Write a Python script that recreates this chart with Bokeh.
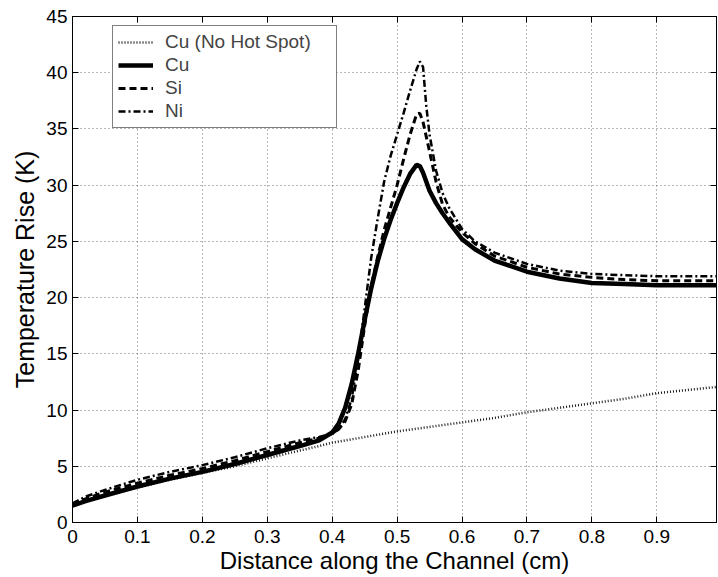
from bokeh.plotting import figure
from bokeh.models import LinearAxis, FixedTicker, Legend, LegendItem, Range1d
from bokeh.embed import file_html
from bokeh.resources import INLINE

# ---- data ----
x_base = [0, 0.02, 0.05, 0.1, 0.15, 0.2, 0.25, 0.3, 0.35, 0.38, 0.40, 0.45, 0.50, 0.55,
          0.60, 0.65, 0.70, 0.75, 0.80, 0.85, 0.90, 0.95, 1.0]
cu_no_hot = [1.5, 1.9, 2.4, 3.1, 3.8, 4.4, 5.0, 5.7, 6.4, 6.8, 7.1, 7.6, 8.1, 8.5,
             8.9, 9.3, 9.8, 10.2, 10.6, 11.0, 11.5, 11.8, 12.1]

x_hot = [0, 0.02, 0.05, 0.1, 0.15, 0.2, 0.25, 0.3, 0.35, 0.38, 0.40, 0.41, 0.42, 0.43,
         0.44, 0.45, 0.46, 0.47, 0.48, 0.49, 0.50, 0.51, 0.52, 0.53, 0.535, 0.54, 0.545,
         0.55, 0.56, 0.57, 0.58, 0.60, 0.62, 0.65, 0.70, 0.75, 0.80, 0.85, 0.90, 0.95, 1.0]
cu = [1.5, 1.9, 2.4, 3.2, 3.9, 4.5, 5.2, 6.0, 6.8, 7.3, 8.0, 8.8, 10.2, 12.3,
      15.0, 18.0, 20.8, 23.2, 25.2, 26.9, 28.4, 29.8, 31.0, 31.8, 31.7, 31.1, 30.3,
      29.5, 28.4, 27.5, 26.7, 25.2, 24.3, 23.3, 22.3, 21.7, 21.3, 21.2, 21.1, 21.1, 21.1]
si = [1.6, 2.1, 2.7, 3.5, 4.2, 4.8, 5.5, 6.3, 7.1, 7.5, 7.9, 8.3, 9.0, 10.5,
      13.5, 17.5, 21.0, 23.6, 26.0, 28.0, 30.0, 32.3, 34.5, 36.3, 36.4, 35.6, 34.3,
      33.0, 30.3, 28.3, 27.2, 25.8, 24.8, 23.7, 22.7, 22.1, 21.8, 21.6, 21.5, 21.5, 21.5]
ni = [1.7, 2.3, 2.9, 3.8, 4.5, 5.1, 5.8, 6.6, 7.3, 7.6, 7.9, 8.3, 9.2, 11.0,
      14.5, 19.0, 23.5, 27.0, 30.3, 32.6, 34.5, 36.4, 38.4, 40.3, 41.0, 40.5, 37.0,
      34.5, 31.3, 29.3, 28.0, 26.1, 25.0, 24.0, 23.0, 22.4, 22.1, 22.0, 21.9, 21.9, 21.9]

x_ticks = [0, 0.1, 0.2, 0.3, 0.4, 0.5, 0.6, 0.7, 0.8, 0.9]
x_tick_labels = ["0", "0.1", "0.2", "0.3", "0.4", "0.5", "0.6", "0.7", "0.8", "0.9"]
y_ticks = [0, 5, 10, 15, 20, 25, 30, 35, 40, 45]

FONT = "Liberation Sans"

p = figure(width=718, height=577, x_range=Range1d(0, 0.992), y_range=Range1d(0, 45),
           output_backend="svg", toolbar_location=None,
           min_border_left=72, min_border_right=2, min_border_top=16, min_border_bottom=55)

p.background_fill_color = "white"
p.border_fill_color = "white"
p.outline_line_color = "black"
p.outline_line_width = 1

# axes
for ax in (p.xaxis[0], p.yaxis[0]):
    ax.axis_line_color = "black"
    ax.major_tick_in = 6
    ax.major_tick_out = 0
    ax.minor_tick_line_color = None
    ax.major_tick_line_color = "black"
    ax.major_label_text_font = FONT
    ax.major_label_text_font_size = "19px"
    ax.major_label_text_color = "black"
    ax.axis_label_text_font = FONT
    ax.axis_label_text_font_size = "24px"
    ax.axis_label_text_font_style = "normal"
    ax.axis_label_text_color = "black"

p.xaxis[0].ticker = FixedTicker(ticks=x_ticks)
p.xaxis[0].major_label_overrides = {t: s for t, s in zip(x_ticks, x_tick_labels)}
p.yaxis[0].ticker = FixedTicker(ticks=y_ticks)
p.xaxis[0].axis_label = "Distance along the Channel (cm)"
p.yaxis[0].axis_label = "Temperature Rise (K)"
p.xaxis[0].major_label_standoff = 7
p.xaxis[0].axis_label_standoff = 1
p.yaxis[0].major_label_standoff = 5
p.yaxis[0].axis_label_standoff = 4
p.yaxis[0].axis_label_text_font_size = "25px"

top = LinearAxis(ticker=FixedTicker(ticks=x_ticks),
                 major_label_overrides={t: "" for t in x_ticks},
                 major_label_text_color=None, major_label_text_font_size="1px",
                 major_label_standoff=0, major_tick_in=6, major_tick_out=0,
                 minor_tick_line_color=None, axis_line_color="black")
right = LinearAxis(ticker=FixedTicker(ticks=y_ticks),
                   major_label_overrides={t: "" for t in y_ticks},
                   major_label_text_color=None, major_label_text_font_size="1px",
                   major_label_standoff=0, major_tick_in=6, major_tick_out=0,
                   minor_tick_line_color=None, axis_line_color="black")
p.add_layout(top, "above")
p.add_layout(right, "right")

# grid
p.xgrid.ticker = FixedTicker(ticks=x_ticks)
p.ygrid.ticker = FixedTicker(ticks=y_ticks)
for g in (p.xgrid[0], p.ygrid[0]):
    g.grid_line_color = "black"
    g.grid_line_alpha = 0.55
    g.grid_line_width = 1
    g.grid_line_dash = "1 3"

# lines
r_base = p.line(x_base, cu_no_hot, line_color="#1a1a1a", line_width=2.5, line_dash="1 2")
r_cu = p.line(x_hot, cu, line_color="black", line_width=4.5)
r_si = p.line(x_hot, si, line_color="black", line_width=3, line_dash="7 4")
r_ni = p.line(x_hot, ni, line_color="black", line_width=2.5, line_dash="7 3 2 3")

legend = Legend(items=[
    LegendItem(label="Cu (No Hot Spot)", renderers=[r_base]),
    LegendItem(label="Cu", renderers=[r_cu]),
    LegendItem(label="Si", renderers=[r_si]),
    LegendItem(label="Ni", renderers=[r_ni]),
], location=(40, 394))
legend.label_text_font = FONT
legend.label_text_font_size = "19px"
legend.label_height = 20
legend.glyph_height = 20
legend.glyph_width = 35
legend.label_width = 166
legend.label_standoff = 12
legend.spacing = 1
legend.padding = 5
legend.margin = 0
legend.border_line_color = "black"
legend.border_line_width = 1
legend.background_fill_color = "white"
legend.background_fill_alpha = 1
p.add_layout(legend)

open("out.html", "w").write(file_html(p, INLINE))
